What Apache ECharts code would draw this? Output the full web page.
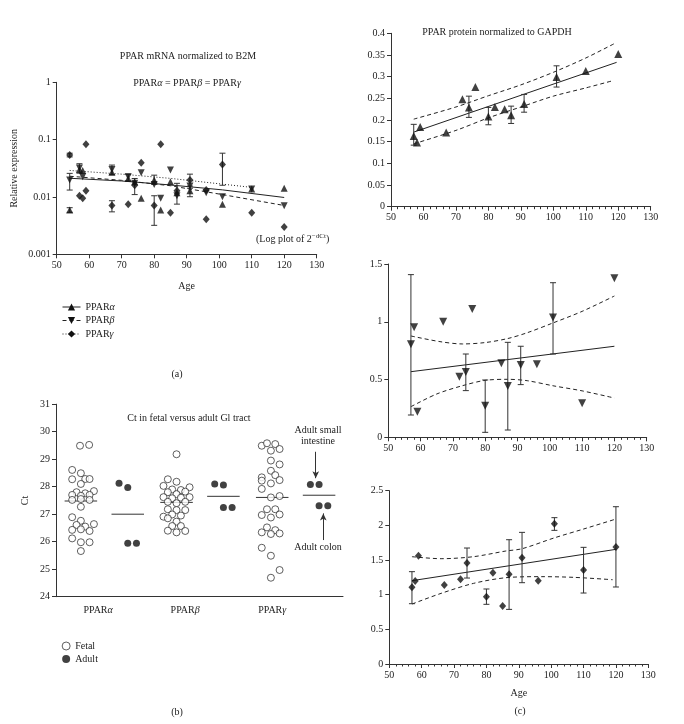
<!DOCTYPE html>
<html><head><meta charset="utf-8">
<script src="https://cdn.jsdelivr.net/npm/echarts@6/dist/echarts.min.js"></script>
<style>html,body{margin:0;padding:0;background:#fff}#c{width:684px;height:724px}</style>
</head><body><div id="c"></div>
<script>
const FONT = '"Liberation Serif","DejaVu Serif",serif';
const INK = '#222';
const AX = '#333';

// ---------- Panel (a): PPAR mRNA normalized to B2M (log scale) ----------
const mrnaAlpha = [[54,0.0059],[57,0.030],[58,0.029],[67,0.027],[72,0.021],[74,0.0185],[76,0.0095],[80,0.0198],[82,0.0059],[85,0.0185],[87,0.0118],[91,0.0128],[101,0.0075],[110,0.0138],[120,0.0142]];
const mrnaBeta = [[54,0.0198],[57,0.032],[58,0.0226],[67,0.030],[72,0.0226],[74,0.0173],[76,0.0265],[80,0.0165],[82,0.0095],[85,0.0295],[87,0.0105],[91,0.0155],[96,0.0118],[101,0.0101],[110,0.0138],[120,0.0070]];
const mrnaGamma = [[54,0.054],[57,0.0105],[58,0.0095],[59,0.083],[59,0.0129],[67,0.0071],[72,0.0075],[74,0.016],[76,0.0396],[80,0.0071],[82,0.083],[85,0.0053],[87,0.0129],[91,0.0198],[96,0.0132],[96,0.0041],[101,0.037],[110,0.0053],[120,0.0030]];
const mrnaErr = [[54,0.050,0.058],[54,0.0132,0.0258],[54,0.0054,0.0065],[57,0.026,0.038],[67,0.0245,0.036],[67,0.0055,0.0086],[72,0.019,0.025],[74,0.011,0.021],[80,0.0165,0.024],[80,0.0032,0.0105],[87,0.0075,0.0173],[91,0.0142,0.025],[91,0.0101,0.0155],[101,0.016,0.058]];
const mrnaFitAlpha = [[54,0.0212],[70,0.019],[85,0.0162],[101,0.0133],[120,0.0098]];
const mrnaFitBeta = [[54,0.023],[70,0.0195],[85,0.0157],[101,0.0110],[120,0.0071]];
const mrnaFitGamma = [[54,0.029],[70,0.025],[85,0.0211],[110,0.0147]];

// ---------- Panel (b): Ct in fetal versus adult GI tract ----------
const genes = ['PPARα','PPARβ','PPARγ'];
const geneLabelPos = [0.44, 1.35, 2.26];
// [swarm slot, Ct]
const fetalAlpha = [[-0.1,29.49],[0.95,29.52],[-1,28.61],[0,28.49],[-1,28.27],[0.5,28.28],[1,28.28],[0,28.10],[1.5,27.84],[-0.5,27.80],[0.5,27.76],[-1,27.70],[0,27.67],[1,27.70],[-1,27.52],[0,27.55],[1,27.52],[0,27.27],[-1,26.89],[0,26.76],[-0.5,26.61],[0.5,26.55],[1.5,26.64],[-1,26.43],[0,26.45],[1,26.39],[-1,26.12],[0,25.98],[1,25.98],[0,25.66]];
const fetalBeta = [[0,29.18],[-1,28.27],[0,28.18],[-1.5,28.03],[-0.5,27.90],[0.5,27.88],[1.5,27.98],[-1,27.80],[0,27.73],[1,27.82],[-1.5,27.62],[-0.5,27.58],[0.5,27.60],[1.5,27.62],[-1,27.45],[0,27.40],[1,27.45],[-1,27.18],[0,27.15],[1,27.15],[-1.5,26.91],[-0.5,26.99],[0.5,26.95],[-1,26.85],[0,26.73],[-0.5,26.57],[0.5,26.57],[-1,26.40],[0,26.34],[1,26.39]];
const fetalGamma = [[-1.2,29.49],[-0.6,29.58],[0.35,29.55],[-0.15,29.31],[0.85,29.37],[-0.15,28.95],[0.85,28.81],[-0.15,28.58],[0.35,28.42],[-1.2,28.34],[-1.2,28.22],[0.85,28.24],[-0.15,28.12],[-1.2,27.92],[-0.15,27.61],[0.85,27.66],[-0.6,27.18],[0.35,27.18],[-1.2,26.97],[-0.15,26.88],[0.85,26.99],[-0.6,26.52],[0.35,26.42],[-1.2,26.34],[-0.15,26.28],[0.85,26.30],[-1.2,25.78],[-0.15,25.49],[0.85,24.97],[-0.15,24.69]];
const adultAlpha = [[-1,28.13],[0,27.97],[0,25.94],[1,25.94]];
const adultBeta = [[-1,28.10],[0,28.06],[0,27.24],[1,27.24]];
const adultGamma = [[-1,28.08],[0,28.08],[0,27.31],[1,27.31]];
const fetalMeans = [27.48, 27.43, 27.61];
const adultMeans = [27.00, 27.65, 27.69];

// ---------- Panel (c): PPAR protein normalized to GAPDH ----------
const protAlpha = [[57,0.163],[58,0.148],[59,0.184],[67,0.171],[72,0.248],[74,0.229],[76,0.276],[80,0.208],[82,0.230],[85,0.225],[87,0.211],[91,0.237],[101,0.299],[110,0.313],[120,0.352]];
const protAlphaErr = [[57,0.142,0.19],[74,0.206,0.255],[80,0.189,0.229],[87,0.192,0.232],[91,0.218,0.259],[101,0.276,0.325]];
const protAlphaFit = [[57,0.172],[119.5,0.333]];
const protAlphaUpper = [[57,0.202],[70,0.230],[80,0.256],[90,0.281],[100,0.310],[110,0.343],[119,0.377]];
const protAlphaLower = [[57,0.145],[70,0.176],[80,0.205],[90,0.230],[100,0.255],[110,0.274],[118.5,0.291]];

const protBeta = [[57,0.805],[58,0.952],[59,0.222],[67,1.0],[72,0.525],[74,0.565],[76,1.11],[80,0.274],[85,0.64],[87,0.444],[91,0.626],[96,0.632],[101,1.036],[110,0.294],[120,1.376]];
const protBetaErr = [[57,0.193,1.408],[74,0.404,0.721],[80,0.043,0.496],[87,0.063,0.822],[91,0.456,0.788],[101,0.721,1.338]];
const protBetaFit = [[57,0.568],[120,0.788]];
const protBetaUpper = [[57,0.877],[66,0.828],[73,0.808],[80,0.820],[87,0.855],[93,0.905],[101,0.990],[110,1.09],[120,1.223]];
const protBetaLower = [[57,0.265],[65,0.375],[73,0.447],[80,0.493],[87,0.502],[93,0.49],[101,0.446],[110,0.402],[120,0.340]];

const protGamma = [[57,1.106],[58,1.197],[59,1.563],[67,1.139],[72,1.221],[74,1.457],[80,0.971],[82,1.317],[85,0.837],[87,1.293],[91,1.534],[96,1.202],[101,2.024],[110,1.356],[120,1.688]];
const protGammaErr = [[57,0.870,1.332],[74,1.240,1.673],[80,0.861,1.082],[87,0.788,1.793],[91,1.173,1.899],[101,1.928,2.111],[110,1.024,1.683],[120,1.111,2.269]];
const protGammaFit = [[57,1.202],[120,1.654]];
const protGammaUpper = [[57,1.548],[66,1.519],[76,1.548],[86,1.63],[91,1.663],[101,1.82],[110,1.947],[120,2.091]];
const protGammaLower = [[57,0.865],[66,1.019],[76,1.163],[86,1.245],[97,1.26],[107,1.25],[119,1.216]];

// ---------- build ----------
const FETAL_POS = 0.26, ADULT_POS = 0.75, SLOT = 0.091, MEAN_HALF = 0.17;
const fetalPts = [], adultPts = [];
[fetalAlpha, fetalBeta, fetalGamma].forEach((arr, k) => arr.forEach(([s, ct]) => fetalPts.push([k + FETAL_POS + s * SLOT, ct])));
[adultAlpha, adultBeta, adultGamma].forEach((arr, k) => arr.forEach(([s, ct]) => adultPts.push([k + ADULT_POS + s * SLOT, ct])));
const meanPts = [];
fetalMeans.forEach((m, k) => meanPts.push([k + FETAL_POS, m]));
adultMeans.forEach((m, k) => meanPts.push([k + ADULT_POS, m]));

const INV_TRI = 'path://M0,0L10,0L5,9Z';
const rich = { g: { fontStyle: 'italic', fontFamily: FONT, fontSize: 10, color: INK } };
const greek = n => n.replace(/([αβγ])/g, '{g|$1}');

function errRender(cap) {
  return function (params, api) {
    const x = api.value(0), lo = api.value(1), hi = api.value(2);
    const a = api.coord([x, lo]), b = api.coord([x, hi]);
    const st = { stroke: '#333', lineWidth: 1 };
    return { type: 'group', children: [
      { type: 'line', shape: { x1: a[0], y1: a[1], x2: b[0], y2: b[1] }, style: st },
      { type: 'line', shape: { x1: a[0] - cap, y1: a[1], x2: a[0] + cap, y2: a[1] }, style: st },
      { type: 'line', shape: { x1: b[0] - cap, y1: b[1], x2: b[0] + cap, y2: b[1] }, style: st }
    ]};
  };
}
function errSeries(data, xi, yi) {
  return { type: 'custom', xAxisIndex: xi, yAxisIndex: yi, data: data, renderItem: errRender(3), encode: { x: 0, y: [1, 2] }, silent: true, z: 3 };
}
function lineSeries(data, xi, yi, type, name, symbol) {
  const s = { type: 'line', xAxisIndex: xi, yAxisIndex: yi, data: data, showSymbol: false, symbol: symbol || 'none', symbolSize: 7, silent: true,
    itemStyle: { color: '#111' },
    lineStyle: { color: '#222', width: 1, type: type }, z: 2 };
  if (name) s.name = name;
  return s;
}
function scatterSeries(data, xi, yi, symbol, size, name) {
  const s = { type: 'scatter', xAxisIndex: xi, yAxisIndex: yi, data: data, symbol: symbol, symbolSize: size,
    itemStyle: { color: '#111' }, silent: true, z: 4 };
  if (name) s.name = name;
  return s;
}

const axisLabel = { color: INK, fontFamily: FONT, fontSize: 10 };
function ageAxis(grid, extra) {
  return Object.assign({ type: 'value', gridIndex: grid, min: 50, max: 130, interval: 10,
    axisLine: { lineStyle: { color: AX, width: 1 } },
    axisTick: { show: true, length: 4, lineStyle: { color: AX } },
    axisLabel: Object.assign({ margin: 6 }, axisLabel),
    splitLine: { show: false } }, extra || {});
}
function valAxis(grid, min, max, interval, extra) {
  return Object.assign({ type: 'value', gridIndex: grid, min: min, max: max, interval: interval,
    axisLine: { show: true, lineStyle: { color: AX, width: 1 } },
    axisTick: { show: true, length: 4, lineStyle: { color: AX } },
    axisLabel: Object.assign({ margin: 6 }, axisLabel),
    splitLine: { show: false } }, extra || {});
}
const minor = { minorTick: { show: true, splitNumber: 5, length: 2.5, lineStyle: { color: AX } } };
const nameStyle = { color: INK, fontFamily: FONT, fontSize: 10 };
const txt = (x, y, text, extra) => ({ type: 'text', x: x, y: y, silent: true,
  style: Object.assign({ text: text, font: '10px ' + FONT, fill: INK, align: 'center', verticalAlign: 'middle', textAlign: 'center', textVerticalAlign: 'middle' }, extra || {}) });

const option = {
  animation: false,
  backgroundColor: '#fff',
  textStyle: { fontFamily: FONT },
  grid: [
    { left: 56.7, top: 82.3, width: 260, height: 172 },
    { left: 56, top: 404.2, width: 287, height: 192.5 },
    { left: 391, top: 33.3, width: 259.7, height: 173.4 },
    { left: 388.3, top: 264, width: 258.4, height: 173.3 },
    { left: 389.3, top: 490.7, width: 259, height: 173.3 }
  ],
  xAxis: [
    ageAxis(0, { name: 'Age', nameLocation: 'middle', nameGap: 27, nameTextStyle: nameStyle }),
    { type: 'value', gridIndex: 1, min: 0, max: 3,
      axisLine: { lineStyle: { color: AX, width: 1 } }, axisTick: { show: false }, splitLine: { show: false },
      axisLabel: Object.assign({ margin: 9, customValues: geneLabelPos, rich: rich,
        formatter: v => greek(genes[Math.floor(v)]) }, axisLabel) },
    ageAxis(2, minor),
    ageAxis(3, minor),
    ageAxis(4, Object.assign({ name: 'Age', nameLocation: 'middle', nameGap: 24, nameTextStyle: nameStyle }, minor))
  ],
  yAxis: [
    { type: 'log', gridIndex: 0, min: 0.001, max: 1, logBase: 10,
      axisLine: { show: true, lineStyle: { color: AX, width: 1 } },
      axisTick: { show: true, length: 4, lineStyle: { color: AX } },
      axisLabel: Object.assign({ margin: 6 }, axisLabel), splitLine: { show: false },
      name: 'Relative expression', nameLocation: 'middle', nameGap: 37, nameTextStyle: nameStyle },
    valAxis(1, 24, 31, 1, { name: 'Ct', nameLocation: 'middle', nameGap: 26, nameTextStyle: nameStyle }),
    valAxis(2, 0, 0.4, 0.05),
    valAxis(3, 0, 1.5, 0.5),
    valAxis(4, 0, 2.5, 0.5)
  ],
  legend: [
    { data: ['PPARα', 'PPARβ', 'PPARγ'], orient: 'vertical', left: 57, top: 297, itemWidth: 18, itemHeight: 9,
      itemGap: 3.5, selectedMode: false, formatter: n => greek(n),
      itemStyle: { color: '#111' },
      lineStyle: { width: 1, color: '#222' },
      textStyle: { color: INK, fontFamily: FONT, fontSize: 10, rich: rich } },
    { data: [{ name: 'Fetal', icon: 'circle' }, { name: 'Adult', icon: 'circle' }], orient: 'vertical', left: 56.7, top: 636,
      itemWidth: 8, itemHeight: 8, itemGap: 3, selectedMode: false,
      itemStyle: { borderWidth: 0.9 },
      textStyle: { color: INK, fontFamily: FONT, fontSize: 10 } }
  ],
  graphic: [
    txt(188, 56, 'PPAR mRNA normalized to B2M'),
    txt(187, 83, 'PPAR{g|α} = PPAR{g|β} = PPAR{g|γ}', { rich: rich }),
    txt(256, 239, '(Log plot of 2{s|−dCt})', { rich: { s: { fontSize: 7, fontFamily: FONT, fill: INK, padding: [0, 0, 6, 0] } }, align: 'left', textAlign: 'left' }),
    txt(177, 374, '(a)'),
    txt(189, 418, 'Ct in fetal versus adult Gl tract'),
    txt(318, 430, 'Adult small'),
    txt(318, 441, 'intestine'),
    txt(318, 547, 'Adult colon'),
    txt(177, 712, '(b)'),
    txt(497, 32, 'PPAR protein normalized to GAPDH'),
    txt(520, 711, '(c)')
  ],
  series: [
    // (a)
    lineSeries(mrnaFitAlpha, 0, 0, 'solid', 'PPARα', 'triangle'),
    lineSeries(mrnaFitBeta, 0, 0, [4, 3], 'PPARβ', INV_TRI),
    lineSeries(mrnaFitGamma, 0, 0, [1, 2], 'PPARγ', 'diamond'),
    errSeries(mrnaErr, 0, 0),
    scatterSeries(mrnaAlpha, 0, 0, 'triangle', [7, 7]),
    scatterSeries(mrnaBeta, 0, 0, INV_TRI, [7, 7]),
    scatterSeries(mrnaGamma, 0, 0, 'diamond', [7, 8]),
    // (b)
    { type: 'custom', xAxisIndex: 1, yAxisIndex: 1, data: meanPts, silent: true, z: 2, encode: { x: 0, y: 1 },
      renderItem: function (params, api) {
        const x = api.value(0), m = api.value(1);
        const a = api.coord([x - MEAN_HALF, m]), b = api.coord([x + MEAN_HALF, m]);
        return { type: 'line', shape: { x1: a[0], y1: a[1], x2: b[0], y2: b[1] }, style: { stroke: '#333', lineWidth: 1 } };
      } },
    { type: 'scatter', name: 'Fetal', xAxisIndex: 1, yAxisIndex: 1, data: fetalPts, symbol: 'circle', symbolSize: 7,
      itemStyle: { color: '#fff', borderColor: '#222', borderWidth: 0.9 }, silent: true, z: 4 },
    { type: 'scatter', name: 'Adult', xAxisIndex: 1, yAxisIndex: 1, data: adultPts, symbol: 'circle', symbolSize: 7,
      itemStyle: { color: '#111' }, silent: true, z: 4,
      markLine: { silent: true, symbol: ['none', 'arrow'], symbolSize: [5, 7], label: { show: false },
        lineStyle: { color: '#333', width: 1, type: 'solid' }, animation: false,
        emphasis: { disabled: true },
        data: [
          [{ coord: [2.715, 29.27] }, { coord: [2.715, 28.31] }],
          [{ coord: [2.794, 26.06] }, { coord: [2.794, 27.03] }]
        ] } },
    // (c) top
    lineSeries(protAlphaFit, 2, 2, 'solid'),
    Object.assign(lineSeries(protAlphaUpper, 2, 2, [4, 3]), { smooth: 0.3 }),
    Object.assign(lineSeries(protAlphaLower, 2, 2, [4, 3]), { smooth: 0.3 }),
    errSeries(protAlphaErr, 2, 2),
    scatterSeries(protAlpha, 2, 2, 'triangle', [8, 8]),
    // (c) middle
    lineSeries(protBetaFit, 3, 3, 'solid'),
    Object.assign(lineSeries(protBetaUpper, 3, 3, [4, 3]), { smooth: 0.3 }),
    Object.assign(lineSeries(protBetaLower, 3, 3, [4, 3]), { smooth: 0.3 }),
    errSeries(protBetaErr, 3, 3),
    scatterSeries(protBeta, 3, 3, INV_TRI, [8, 8]),
    // (c) bottom
    lineSeries(protGammaFit, 4, 4, 'solid'),
    Object.assign(lineSeries(protGammaUpper, 4, 4, [4, 3]), { smooth: 0.3 }),
    Object.assign(lineSeries(protGammaLower, 4, 4, [4, 3]), { smooth: 0.3 }),
    errSeries(protGammaErr, 4, 4),
    scatterSeries(protGamma, 4, 4, 'diamond', [7, 8])
  ]
};

const chart = echarts.init(document.getElementById('c'));
chart.setOption(option);
</script></body></html>
